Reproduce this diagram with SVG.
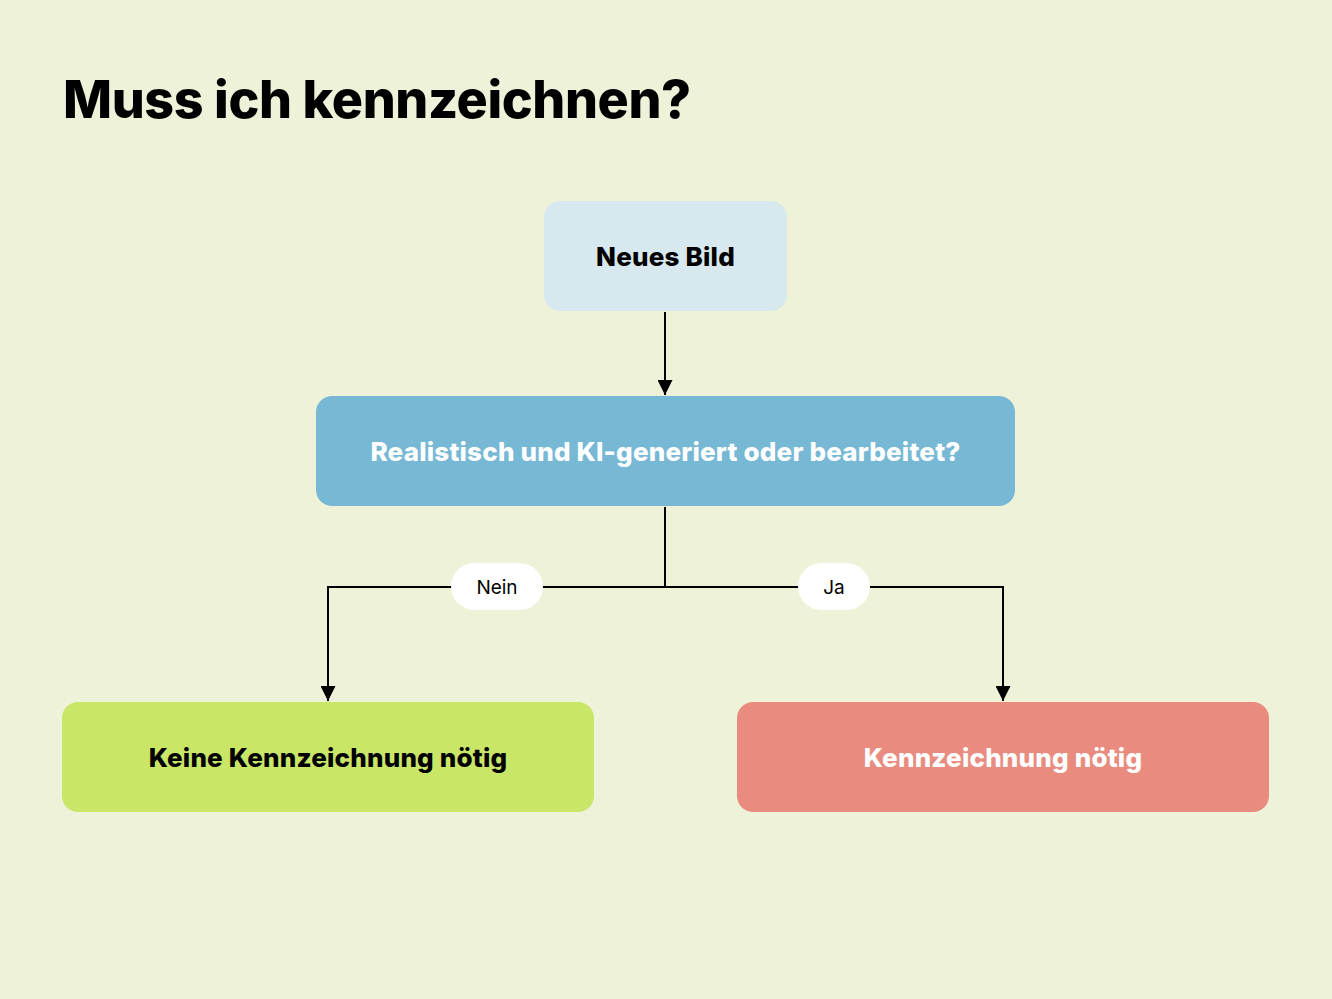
<svg xmlns="http://www.w3.org/2000/svg" width="1332" height="999" viewBox="0 0 1332 999">
<defs>
<marker id="arr" viewBox="0 0 10 10" refX="10" refY="5" markerWidth="15" markerHeight="15" markerUnits="userSpaceOnUse" orient="auto">
<path d="M0,0 L10,5 L0,10 z" fill="#000"/>
</marker>
<style>
.t{font-family:Inter,"Noto Sans",sans-serif;font-weight:800;font-size:26px;text-anchor:middle;dominant-baseline:central;letter-spacing:0.2px}
.c{fill:none;stroke:#000;stroke-width:2}
.lb{font-family:Inter,"Noto Sans",sans-serif;font-size:19px;text-anchor:middle;dominant-baseline:central;fill:#000}
</style>
</defs>
<rect width="1332" height="999" fill="#eef2d8"/>
<text x="63" y="118" font-family="Inter,sans-serif" font-weight="800" font-size="52" letter-spacing="-0.4" fill="#000">Muss ich kennzeichnen?</text>
<g id="connectors">
<path class="c" d="M665,312 V395" marker-end="url(#arr)"/>
<path class="c" d="M665,507 V587 H328 V701" marker-end="url(#arr)"/>
<path class="c" d="M665,587 H1003 V701" marker-end="url(#arr)"/>
<g id="label-nein"><rect x="451" y="563" width="92" height="47" rx="23.5" fill="#fff"/><text class="lb" x="497" y="587">Nein</text></g>
<g id="label-ja"><rect x="798" y="563" width="72" height="47" rx="23.5" fill="#fff"/><text class="lb" x="834" y="587">Ja</text></g>
</g>
<g id="start"><rect x="544" y="201" width="243" height="110" rx="16" fill="#d8e8ef"/><text class="t" x="665.5" y="256" fill="#000">Neues Bild</text></g>
<g id="question"><rect x="316" y="396" width="699" height="110" rx="16" fill="#77b8d5"/><text class="t" x="665.5" y="451" fill="#fff">Realistisch und KI-generiert oder bearbeitet?</text></g>
<g id="no"><rect x="62" y="702" width="532" height="110" rx="16" fill="#c9e667"/><text class="t" x="328" y="757" fill="#000">Keine Kennzeichnung nötig</text></g>
<g id="yes"><rect x="737" y="702" width="532" height="110" rx="16" fill="#e98c7f"/><text class="t" x="1003" y="757" fill="#fff">Kennzeichnung nötig</text></g>
</svg>
